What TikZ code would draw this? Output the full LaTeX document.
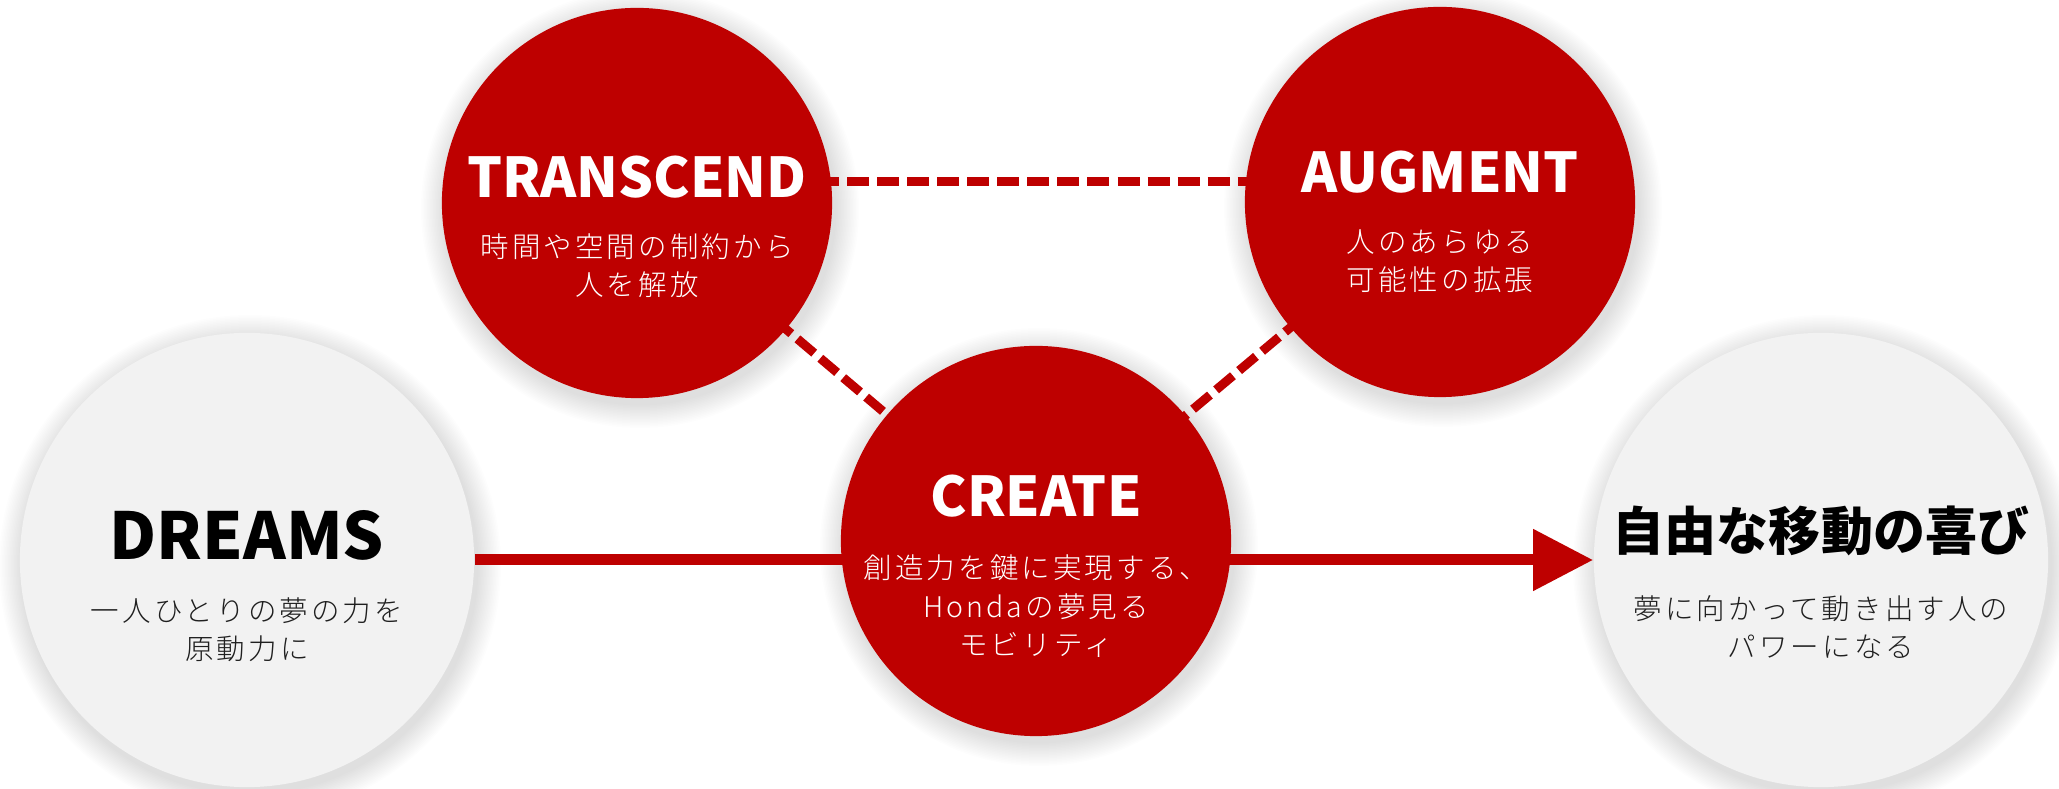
\documentclass[tikz,border=0pt]{standalone}
\usepackage{fontspec}
\setmainfont{Noto Sans CJK JP}
\newfontfamily\jplight{Noto Sans CJK JP Light}[LetterSpace=11]
\usetikzlibrary{arrows.meta,calc}
\definecolor{hred}{HTML}{BE0000}
\definecolor{hgray}{HTML}{F2F2F2}
\pgfdeclarelayer{bg}
\pgfsetlayers{bg,main}
\begin{document}
\begin{tikzpicture}[x=0.01cm,y=-0.01cm,
  redc/.style={circle,fill=hred,minimum size=3.9cm,inner sep=0},
  grayc/.style={circle,fill=hgray,minimum size=4.54cm,inner sep=0},
  ttl/.style={anchor=base,font=\bfseries\fontsize{15.6pt}{19pt}\selectfont,inner sep=0},
  sub/.style={anchor=base,align=center,font=\jplight\fontsize{8.1pt}{10.95pt}\selectfont,inner sep=0},
  dashln/.style={draw=hred,line width=2.56pt,dash pattern=on 6.26pt off 2.28pt},
  mainln/.style={draw=hred,line width=3.13pt,-{Triangle[length=17.07pt,width=16.8pt]}},
  shadowc/.style={fill=black,opacity=0.009},
]
\useasboundingbox (0,0) rectangle (2059,789);

% circles
\node[grayc] (dr) at (247,560) {};
\node[redc]  (tr) at (637,203) {};
\node[redc]  (au) at (1440,202) {};
\node[redc]  (cr) at (1036,541) {};
\node[grayc] (go) at (1821,560) {};

% shadows and connectors behind
\begin{pgfonlayer}{bg}
  \foreach \cx/\cy/\r in {247/560/227, 637/203/195, 1440/202/195, 1036/541/195, 1821/560/227}{
    \foreach \k in {1,...,16}{
      \fill[shadowc] (\cx+3,\cy+6) circle[radius=\r+\k*1.5];
    }
  }
  \draw[dashln] ($(tr.center)+(0,-21)$) -- ($(au.center)+(0,-20)$);
  \draw[dashln] (tr.center) -- (cr.center);
  \draw[dashln] (au.center) -- (cr.center);
  \draw[mainln] (dr.east) -- (go.west);
\end{pgfonlayer}

% texts (multi-line nodes: base = baseline of last line)
\node[ttl,font=\bfseries\fontsize{18.4pt}{22pt}\selectfont] (drt) at (247,560) {DREAMS};
\node[sub,text=black!88] (drs) at (247,660) {一人ひとりの夢の力を\\原動力に};

\node[ttl,text=white] (trt) at (637,198) {TRANSCEND};
\node[sub,text=white] (trs) at (637,296) {時間や空間の制約から\\人を解放};

\node[ttl,text=white] (aut) at (1440,193) {AUGMENT};
\node[sub,text=white] (aus) at (1440,291) {人のあらゆる\\可能性の拡張};

\node[ttl,text=white] (crt) at (1036,517) {CREATE};
\node[sub,text=white] (crs) at (1036,656) {創造力を鍵に実現する、\\Hondaの夢見る\\モビリティ};

\node[ttl,font=\bfseries\fontsize{14.8pt}{18pt}\selectfont] (got) at (1821,551) {自由な移動の喜び};
\node[sub,text=black!88] (gos) at (1821,658) {夢に向かって動き出す人の\\パワーになる};
\end{tikzpicture}
\end{document}
